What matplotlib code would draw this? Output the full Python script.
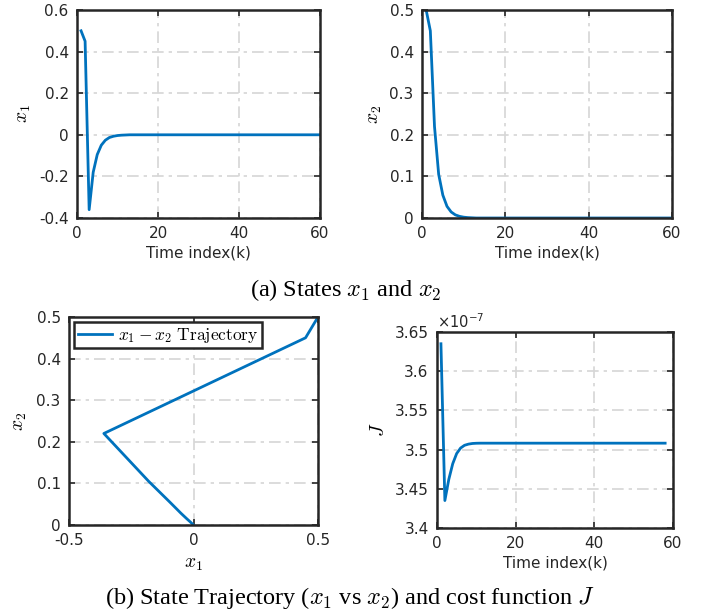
import matplotlib.pyplot as plt
from matplotlib.ticker import FuncFormatter

plt.rcParams['font.family'] = ['DejaVu Sans']
plt.rcParams['axes.unicode_minus'] = False
plt.rcParams['mathtext.fontset'] = 'cm'

# state trajectories, time index k = 1..60
k = list(range(1, 61))
x1 = [0.5, 0.45, -0.36, -0.18, -0.095, -0.05, -0.026, -0.013, -0.007, -0.0035,
      -0.0018, -0.0009] + [0.0] * 48
x2 = [0.5, 0.45, 0.22, 0.105, 0.055, 0.028, 0.0145, 0.0075, 0.004, 0.002,
      0.001, 0.0005] + [0.0] * 48

# cost function, k = 1..58
kJ = list(range(1, 59))
J = [3.635e-7, 3.435e-7, 3.462e-7, 3.482e-7, 3.495e-7, 3.502e-7, 3.5055e-7,
     3.507e-7, 3.5078e-7, 3.5081e-7] + [3.5082e-7] * 48

W, H = 702, 614
fig = plt.figure(figsize=(W / 100, H / 100), dpi=100)


def box(l, r, t, b):
    return fig.add_axes([l / W, 1 - b / H, (r - l) / W, (b - t) / H])


blue = '#0072BD'
dark = '#262626'
fmt = FuncFormatter(lambda v, p: '%g' % round(v, 6))


def style(ax):
    ax.grid(True, color='#d6d6d6', linestyle=(0, (7, 3, 2, 3)), linewidth=1.2)
    ax.set_axisbelow(True)
    for s in ax.spines.values():
        s.set_linewidth(1.8)
        s.set_color(dark)
    ax.tick_params(direction='in', top=True, right=True, length=4, width=1.2,
                   labelsize=11, colors=dark, pad=6)
    ax.xaxis.set_major_formatter(fmt)
    ax.yaxis.set_major_formatter(fmt)


ax1 = box(77, 320, 10, 218)
ax1.plot(k, x1, color=blue, lw=2)
ax1.set_xlim(0, 60)
ax1.set_ylim(-0.4, 0.6)
ax1.set_xticks([0, 20, 40, 60])
ax1.set_yticks([-0.4, -0.2, 0, 0.2, 0.4, 0.6])
style(ax1)
ax1.set_xlabel('Time index(k)', fontsize=11, labelpad=3, color=dark)
ax1.set_ylabel('$x_1$', fontsize=14, labelpad=4)

ax2 = box(422, 672, 10, 218)
ax2.plot(k, x2, color=blue, lw=2)
ax2.set_xlim(0, 60)
ax2.set_ylim(0, 0.5)
ax2.set_xticks([0, 20, 40, 60])
ax2.set_yticks([0, 0.1, 0.2, 0.3, 0.4, 0.5])
style(ax2)
ax2.set_xlabel('Time index(k)', fontsize=11, labelpad=3, color=dark)
ax2.set_ylabel('$x_2$', fontsize=14, labelpad=4)

ax3 = box(69, 318, 317, 525)
ax3.plot(x1, x2, color=blue, lw=2, label=r'$x_1 - x_2\ \mathrm{Trajectory}$')
ax3.set_xlim(-0.5, 0.5)
ax3.set_ylim(0, 0.5)
ax3.set_xticks([-0.5, 0, 0.5])
ax3.set_yticks([0, 0.1, 0.2, 0.3, 0.4, 0.5])
style(ax3)
ax3.set_xlabel('$x_1$', fontsize=14, labelpad=4)
ax3.set_ylabel('$x_2$', fontsize=14, labelpad=5)
leg = ax3.legend(loc='upper left', fontsize=12.5, fancybox=False, framealpha=1,
                 borderaxespad=0.3, handlelength=2.0, handletextpad=0.3,
                 borderpad=0.2)
leg.get_frame().set_edgecolor(dark)
leg.get_frame().set_linewidth(1.8)

ax4 = box(437, 673, 332, 528)
ax4.plot(kJ, J, color=blue, lw=2)
ax4.set_xlim(0, 60)
ax4.set_ylim(3.4e-7, 3.65e-7)
ax4.set_xticks([0, 20, 40, 60])
ax4.set_yticks([3.4e-7, 3.45e-7, 3.5e-7, 3.55e-7, 3.6e-7, 3.65e-7])
style(ax4)
ax4.yaxis.set_major_formatter(FuncFormatter(lambda v, p: '%g' % round(v * 1e7, 4)))
ax4.text(0.0, 1.005, r'$\times 10^{-7}$', transform=ax4.transAxes, fontsize=10.5,
         math_fontfamily='dejavusans', color=dark, va='bottom', ha='left')
ax4.set_xlabel('Time index(k)', fontsize=11, labelpad=3, color=dark)
ax4.set_ylabel('$J$', fontsize=14, labelpad=5)

fig.text(346 / W, 1 - 290 / H, r'(a) States $x_1$ and $x_2$', ha='center', va='center',
         fontsize=17.5, family='Liberation Serif', math_fontfamily='cm')
fig.text(350 / W, 1 - 598 / H, r'(b) State Trajectory ($x_1$ vs $x_2$) and cost function $J$',
         ha='center', va='center', fontsize=17.5, family='Liberation Serif',
         math_fontfamily='cm')

fig.savefig('out.png', dpi=100)
